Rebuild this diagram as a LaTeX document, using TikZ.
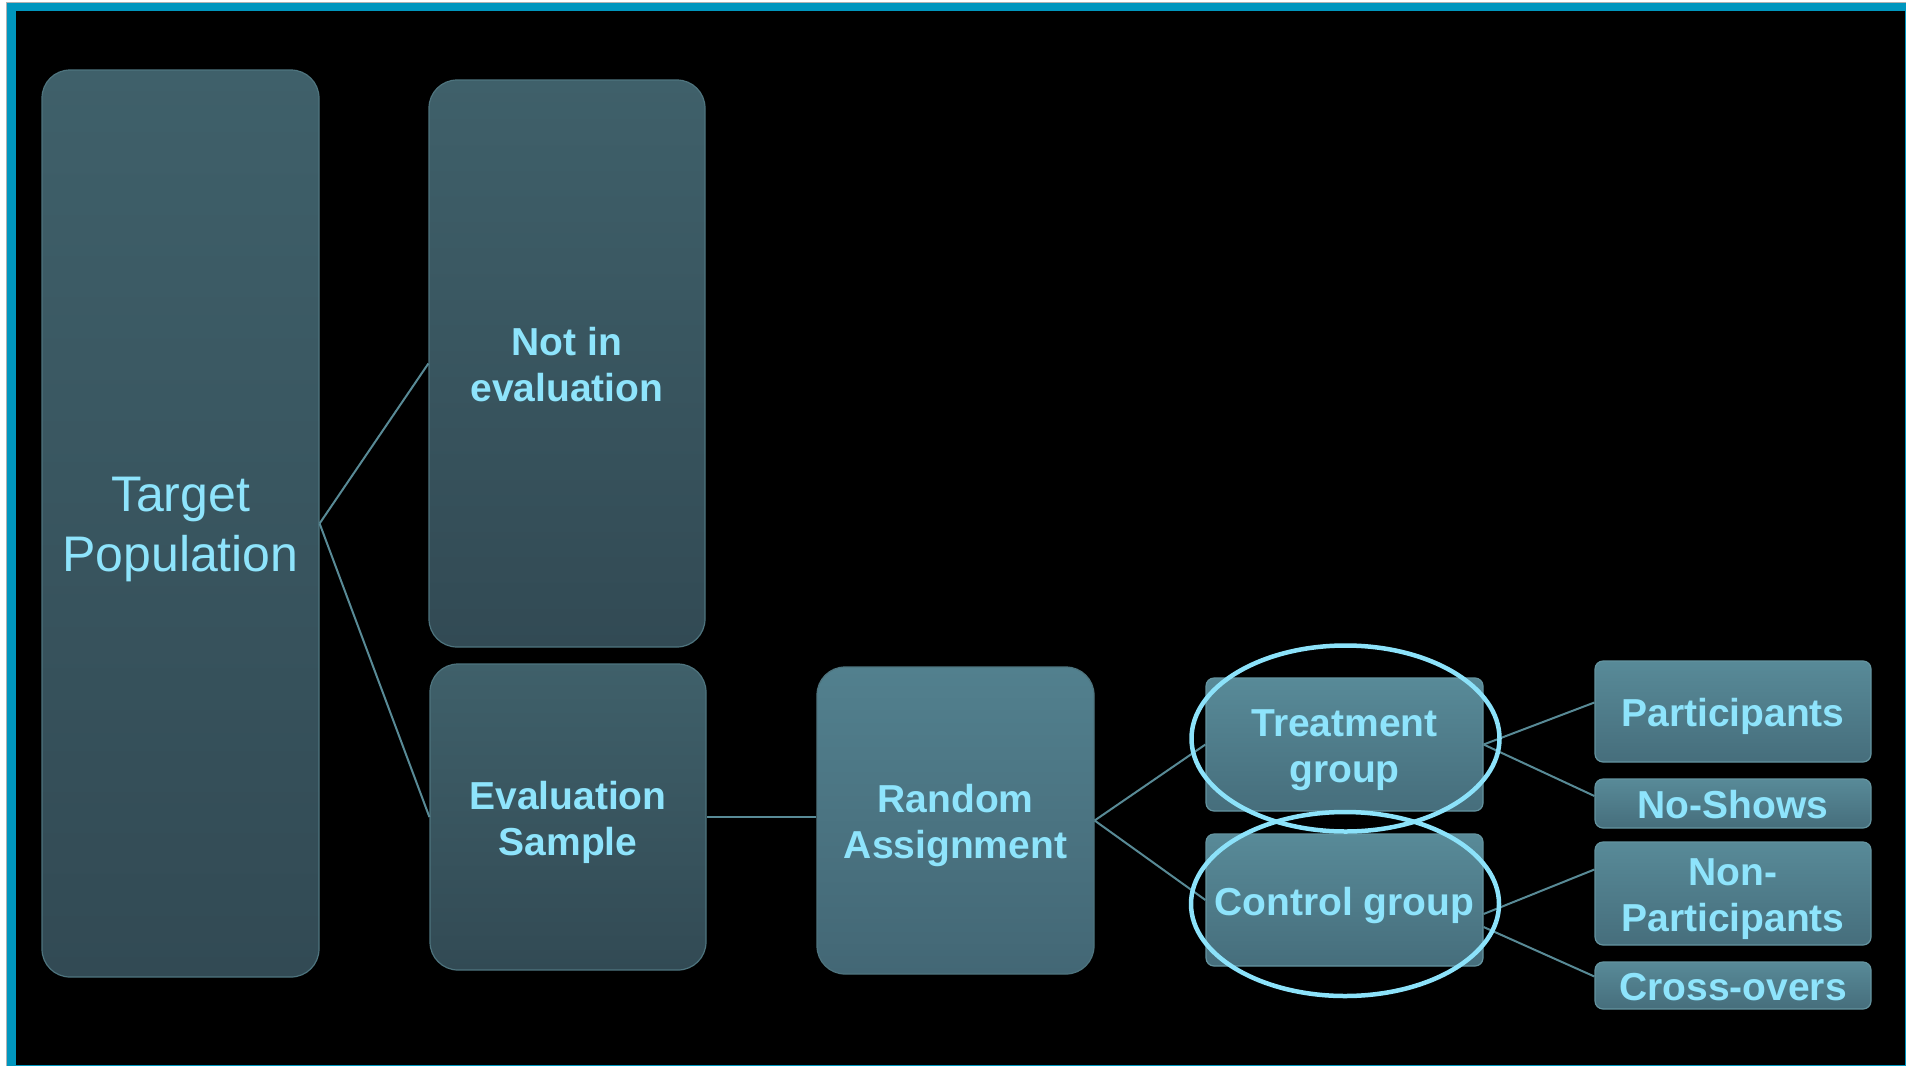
\documentclass[tikz,border=0pt]{standalone}
\usepackage{fontspec}
\setmainfont{Liberation Sans}
\usetikzlibrary{calc,shapes.geometric}
\definecolor{frameblue}{RGB}{0,150,190}
\definecolor{txt}{RGB}{142,228,252}
\definecolor{darktop}{RGB}{63,96,106}
\definecolor{darkbot}{RGB}{50,74,84}
\definecolor{midtop}{RGB}{82,128,142}
\definecolor{midbot}{RGB}{67,103,117}
\definecolor{lighttop}{RGB}{88,138,152}
\definecolor{lightbot}{RGB}{70,110,124}
\definecolor{boxline}{RGB}{78,116,126}
\definecolor{boxlinelight}{RGB}{100,148,160}
\definecolor{conn}{RGB}{88,138,150}
\definecolor{ringcol}{RGB}{140,226,250}
\newcommand{\bt}[1]{\raisebox{-6pt}[\height][\depth]{\begin{tabular}{@{}c@{}}#1\end{tabular}}}
\tikzset{
  basebox/.style={draw=boxline, line width=1.2pt, text=txt, inner sep=0pt,
    font=\bfseries\fontsize{39}{46}\selectfont},
  darkbox/.style={basebox, rounded corners=28pt, top color=darktop, bottom color=darkbot},
  midbox/.style={basebox, rounded corners=28pt, top color=midtop, bottom color=midbot},
  lightbox/.style={basebox, draw=boxlinelight, rounded corners=8pt, top color=lighttop, bottom color=lightbot},
  connector/.style={draw=conn, line width=2pt},
  ringstyle/.style={draw=ringcol, line width=4.5pt, ellipse, inner sep=0pt}
}
\begin{document}
\begin{tikzpicture}[x=1pt,y=-1pt]
\useasboundingbox (0,0) rectangle (1906,1066);
% frame
\fill[white] (0,0) rectangle (1906,1066);
\fill[gray!60] (6,2) rectangle (1906,1066);
\fill[frameblue] (7,3) rectangle (1906,1066);
\fill[black] (16,11) rectangle (1905,1065);

% nodes
\node[darkbox, minimum width=277pt, minimum height=907pt,
  font=\fontsize{50}{60}\selectfont] (tp) at (180.5,523.5) {\bt{Target\\Population}};
\node[darkbox, minimum width=276pt, minimum height=567pt] (ne) at (567,363.5) {\bt{Not in\\evaluation}};
\node[darkbox, minimum width=276pt, minimum height=306pt] (es) at (568,817) {\bt{Evaluation\\Sample}};
\node[midbox, minimum width=277pt, minimum height=307pt] (ra) at (955.5,820.5) {\bt{Random\\Assignment}};
\node[lightbox, minimum width=277pt, minimum height=133pt] (tg) at (1344.5,744.5) {\bt{Treatment\\group}};
\node[lightbox, minimum width=277pt, minimum height=132pt] (cg) at (1344.5,900) {\bt{Control group}};
\node[lightbox, minimum width=276pt, minimum height=101pt] (pa) at (1733,711.5) {\bt{Participants}};
\node[lightbox, minimum width=276pt, minimum height=49pt] (ns) at (1733,803.5) {\bt{No-Shows}};
\node[lightbox, minimum width=276pt, minimum height=103pt] (np) at (1733,893.5) {\bt{Non-\\Participants}};
\node[lightbox, minimum width=276pt, minimum height=47pt] (co) at (1733,985.5) {\bt{Cross-overs}};

% connectors
\draw[connector] (tp.east) -- (ne.west);
\draw[connector] (tp.east) -- (es.west);
\draw[connector] (es.east) -- (es.east -| ra.west);
\draw[connector] (ra.east) -- (tg.west);
\draw[connector] (ra.east) -- (cg.west);
\draw[connector] (tg.east) -- ([yshift=9pt]pa.west);
\draw[connector] (tg.east) -- ([yshift=7.5pt]ns.west);
\draw[connector] ([yshift=-14pt]cg.east) -- ([yshift=24pt]np.west);
\draw[connector] ([yshift=-27pt]cg.east) -- ([yshift=9pt]co.west);

% highlight rings
\node[ringstyle, minimum width=308pt, minimum height=186pt] (tge) at (1345.5,738.5) {};
\node[ringstyle, minimum width=308pt, minimum height=184pt] (cge) at (1345,904) {};
\end{tikzpicture}
\end{document}
